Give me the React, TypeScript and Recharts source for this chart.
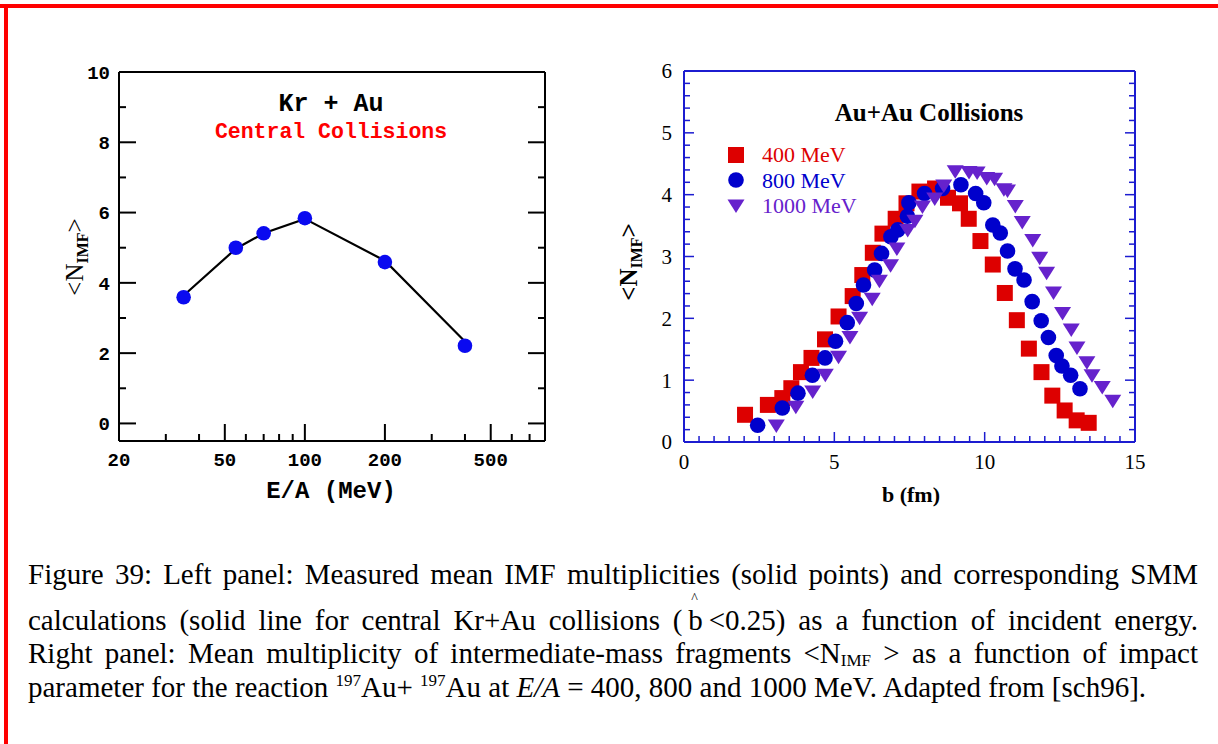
import React from 'react';
import { ComposedChart, ScatterChart, Scatter, Line, XAxis, YAxis, Legend } from 'recharts';

// left panel: Kr + Au central collisions
const energy = [35, 55, 70, 100, 200, 400];
const nImfMeasured = [3.59, 5.0, 5.41, 5.84, 4.59, 2.21];
const nImfSmm = [3.64, 4.97, 5.41, 5.82, 4.63, 2.33];

const eTicks = [20, 30, 40, 50, 60, 70, 80, 90, 100, 200, 300, 400, 500, 600, 700, 800];
const eTickLabels = [20, 50, 100, 200, 500];
const nTicksLeft = [0, 1, 2, 3, 4, 5, 6, 7, 8, 9, 10];
const nLabelsLeft = [0, 2, 4, 6, 8, 10];

// right panel: Au + Au vs impact parameter
const b400 = [2.03, 2.79, 3.27, 3.57, 3.89, 4.24, 4.69, 5.14, 5.61, 5.93, 6.28, 6.6, 7.04, 7.4, 7.83, 8.35, 8.78, 9.18, 9.47, 9.86, 10.27, 10.67, 11.07, 11.47, 11.89, 12.25, 12.66, 13.06, 13.46];
const n400 = [0.44, 0.6, 0.71, 0.87, 1.13, 1.36, 1.66, 2.03, 2.36, 2.7, 3.06, 3.37, 3.61, 3.86, 4.05, 4.1, 3.95, 3.86, 3.61, 3.25, 2.87, 2.41, 1.97, 1.51, 1.13, 0.75, 0.51, 0.35, 0.31];

const b800 = [2.45, 3.27, 3.79, 4.27, 4.69, 5.04, 5.43, 5.73, 5.97, 6.34, 6.57, 6.88, 7.11, 7.43, 7.48, 8.0, 8.6, 9.21, 9.7, 9.97, 10.27, 10.52, 10.76, 11.01, 11.31, 11.58, 11.88, 12.12, 12.38, 12.57, 12.86, 13.17];
const n800 = [0.27, 0.55, 0.79, 1.08, 1.36, 1.63, 1.93, 2.24, 2.54, 2.78, 3.05, 3.32, 3.43, 3.65, 3.87, 4.02, 4.1, 4.16, 4.02, 3.87, 3.51, 3.38, 3.09, 2.8, 2.62, 2.27, 1.96, 1.69, 1.4, 1.23, 1.08, 0.86];

const b1000 = [3.07, 3.72, 4.28, 4.7, 5.14, 5.52, 5.84, 6.26, 6.5, 6.87, 7.08, 7.44, 7.68, 7.93, 8.34, 8.64, 9.02, 9.48, 9.75, 10.07, 10.33, 10.64, 10.76, 11.02, 11.25, 11.6, 11.83, 12.06, 12.29, 12.59, 12.88, 13.07, 13.4, 13.57, 13.91, 14.26];
const n1000 = [0.26, 0.56, 0.81, 1.08, 1.37, 1.69, 2.0, 2.31, 2.6, 2.85, 3.12, 3.42, 3.57, 3.8, 3.93, 4.14, 4.37, 4.36, 4.35, 4.26, 4.25, 4.08, 4.06, 3.81, 3.55, 3.26, 2.97, 2.73, 2.41, 2.08, 1.81, 1.52, 1.28, 1.07, 0.88, 0.66];

const seriesNames = ['400 MeV', '800 MeV', '1000 MeV'];

const bLabels = [0, 5, 10, 15];
const nLabelsRight = [0, 1, 2, 3, 4, 5, 6];
const steps = (from: number, to: number, step: number) => {
  const out: number[] = [];
  for (let i = 0; from + i * step <= to + 1e-9; i++) out.push(+(from + i * step).toFixed(3));
  return out;
};
const bTicks = steps(0, 15, 0.5);
const nTicksRight = steps(0, 6, 0.2);

const leftData = energy.map((e, i) => ({ e, nimf: nImfMeasured[i], smm: nImfSmm[i] }));
const pts = (b: number[], n: number[]) => b.map((v, i) => ({ b: v, n: n[i] }));

const RED = '#dd0000';
const BLUE = '#0000cc';
const PURPLE = '#6622cc';
const FRAME_BLUE = '#1c1cd0';
const MONO = '"Liberation Mono", "DejaVu Sans Mono", monospace';
const SERIF = '"Liberation Serif", "Times New Roman", serif';

type Side = 'bottom' | 'top' | 'left' | 'right';
type TickCfg = {
  side: Side;
  gap: number;
  labels: number[];
  major: number;
  minor: number;
  color: string;
  width: number;
  text?: { font: string; size: number; weight?: string };
};

// ticks point into the plot, long ones where a label sits
const makeTick = (c: TickCfg) => (props: any) => {
  const { x, y, payload } = props;
  const v = Number(payload.value);
  const big = c.labels.some((l) => Math.abs(l - v) < 1e-6);
  const len = big ? c.major : c.minor;
  let l = { x1: x, y1: y, x2: x, y2: y };
  let anchor = 'middle';
  let dy = '0.71em';
  if (c.side === 'bottom') {
    const a = y - c.gap;
    l = { x1: x, y1: a, x2: x, y2: a - len };
  } else if (c.side === 'top') {
    const a = y + c.gap;
    l = { x1: x, y1: a, x2: x, y2: a + len };
  } else if (c.side === 'left') {
    const a = x + c.gap;
    l = { x1: a, y1: y, x2: a + len, y2: y };
    anchor = 'end';
    dy = '0.35em';
  } else {
    const a = x - c.gap;
    l = { x1: a, y1: y, x2: a - len, y2: y };
  }
  return (
    <g>
      <line {...l} stroke={c.color} strokeWidth={c.width} />
      {c.text && big && (
        <text x={x} y={y} dy={dy} textAnchor={anchor} fill="#000" fontFamily={c.text.font} fontSize={c.text.size} fontWeight={c.text.weight}>
          {v}
        </text>
      )}
    </g>
  );
};

const BlueDot = (p: any) => <circle cx={p.cx} cy={p.cy} r={7.3} fill="#0a0af0" />;
const Square = (p: any) => <rect x={p.cx - 8} y={p.cy - 8} width={16} height={16} fill={p.fill} />;
const Dot = (p: any) => <circle cx={p.cx} cy={p.cy} r={7.8} fill={p.fill} />;
const TriDown = (p: any) => (
  <polygon points={`${p.cx - 8.5},${p.cy - 6.5} ${p.cx + 8.5},${p.cy - 6.5} ${p.cx},${p.cy + 7}`} fill={p.fill} />
);

const legendMarks: Record<string, { color: string; mark: React.ReactNode }> = {
  '400 MeV': { color: RED, mark: <rect x={2} y={2} width={16} height={16} fill={RED} /> },
  '800 MeV': { color: BLUE, mark: <circle cx={10} cy={10} r={7.8} fill={BLUE} /> },
  '1000 MeV': { color: PURPLE, mark: <polygon points="1.5,3.5 18.5,3.5 10,17" fill={PURPLE} /> },
};

const leftYLabel = () => (
  <text transform="rotate(-90 83 257)" x={83} y={257} textAnchor="middle" fontFamily={SERIF} fontSize={25} fill="#000">
    &lt;N
    <tspan dy={5} fontSize={16} fontWeight="bold">IMF</tspan>
    <tspan dy={-5}>&gt;</tspan>
  </text>
);

const rightYLabel = () => (
  <text transform="rotate(-90 37 262)" x={37} y={262} textAnchor="middle" fontFamily={SERIF} fontSize={25} fontWeight="bold" fill="#000">
    &lt;N
    <tspan dy={5} fontSize={16}>IMF</tspan>
    <tspan dy={-5}>&gt;</tspan>
  </text>
);

const renderLegend = () => (
  <div style={{ fontFamily: SERIF, fontSize: 22, lineHeight: '25.5px' }}>
    {seriesNames.map((name) => (
      <div key={name} style={{ display: 'flex', alignItems: 'center', color: legendMarks[name].color, height: 25.5 }}>
        <svg width={20} height={20} style={{ marginRight: 16 }}>
          {legendMarks[name].mark}
        </svg>
        <span>{name}</span>
      </div>
    ))}
  </div>
);

const leftTickStyle = { font: MONO, size: 19, weight: 'bold' };
const rightTickStyle = { font: SERIF, size: 21 };

function LeftPanel() {
  return (
    <div style={{ position: 'absolute', left: 0, top: 0, width: 600, height: 520 }}>
      <ComposedChart width={600} height={520} data={leftData} margin={{ top: 70, right: 53, bottom: 49, left: 79 }}>
        <XAxis
          dataKey="e"
          type="number"
          scale="log"
          domain={[20, 800]}
          allowDataOverflow
          ticks={eTicks}
          interval={0}
          height={30}
          tickSize={0}
          tickMargin={12}
          axisLine={{ stroke: '#000', strokeWidth: 2 }}
          tick={makeTick({ side: 'bottom', gap: 12, labels: eTickLabels, major: 17, minor: 7, color: '#000', width: 2, text: leftTickStyle })}
        />
        <XAxis
          xAxisId="top"
          orientation="top"
          type="number"
          scale="log"
          domain={[20, 800]}
          allowDataOverflow
          ticks={eTicks}
          interval={0}
          height={2}
          tickSize={0}
          tickMargin={0}
          axisLine={{ stroke: '#000', strokeWidth: 2 }}
          tick={makeTick({ side: 'top', gap: 0, labels: eTickLabels, major: 17, minor: 6, color: '#000', width: 2 })}
        />
        <YAxis
          type="number"
          domain={[-0.5, 10]}
          allowDataOverflow
          ticks={nTicksLeft}
          interval={0}
          width={40}
          tickSize={0}
          tickMargin={9}
          axisLine={{ stroke: '#000', strokeWidth: 2 }}
          tick={makeTick({ side: 'left', gap: 9, labels: nLabelsLeft, major: 17, minor: 7, color: '#000', width: 2, text: leftTickStyle })}
          label={leftYLabel}
        />
        <YAxis
          yAxisId="right"
          orientation="right"
          type="number"
          domain={[-0.5, 10]}
          allowDataOverflow
          ticks={nTicksLeft}
          interval={0}
          width={2}
          tickSize={0}
          tickMargin={0}
          axisLine={{ stroke: '#000', strokeWidth: 2 }}
          tick={makeTick({ side: 'right', gap: 0, labels: nLabelsLeft, major: 17, minor: 7, color: '#000', width: 2 })}
        />
        <Scatter dataKey="nimf" shape={BlueDot} isAnimationActive={false} />
        <Line dataKey="smm" stroke="#000" strokeWidth={2.2} dot={false} type="linear" isAnimationActive={false} />
      </ComposedChart>
      <div style={{ position: 'absolute', left: 181, width: 300, top: 92, textAlign: 'center', fontFamily: MONO, fontSize: 25, fontWeight: 'bold', lineHeight: '26px', color: '#000' }}>
        Kr + Au
      </div>
      <div style={{ position: 'absolute', left: 181, width: 300, top: 120, textAlign: 'center', fontFamily: MONO, fontSize: 21.5, fontWeight: 'bold', lineHeight: '24px', color: '#ff0000' }}>
        Central Collisions
      </div>
      <div style={{ position: 'absolute', left: 181, width: 300, top: 479, textAlign: 'center', fontFamily: MONO, fontSize: 24, fontWeight: 'bold', lineHeight: '26px', color: '#000' }}>
        E/A (MeV)
      </div>
    </div>
  );
}

function RightPanel() {
  return (
    <div style={{ position: 'absolute', left: 600, top: 0, width: 600, height: 520 }}>
      <ScatterChart width={600} height={520} margin={{ top: 69, right: 63, bottom: 48, left: 44 }}>
        <XAxis
          dataKey="b"
          type="number"
          domain={[0, 15]}
          allowDataOverflow
          ticks={bTicks}
          interval={0}
          height={30}
          tickSize={0}
          tickMargin={12}
          axisLine={{ stroke: FRAME_BLUE, strokeWidth: 2 }}
          tick={makeTick({ side: 'bottom', gap: 12, labels: bLabels, major: 10, minor: 6, color: FRAME_BLUE, width: 1.5, text: rightTickStyle })}
        />
        <XAxis
          xAxisId="top"
          orientation="top"
          type="number"
          domain={[0, 15]}
          allowDataOverflow
          ticks={bTicks}
          interval={0}
          height={2}
          tickSize={0}
          tickMargin={0}
          axisLine={{ stroke: FRAME_BLUE, strokeWidth: 2 }}
          tick={makeTick({ side: 'top', gap: 0, labels: bLabels, major: 10, minor: 6, color: FRAME_BLUE, width: 1.5 })}
        />
        <YAxis
          dataKey="n"
          type="number"
          domain={[0, 6]}
          allowDataOverflow
          ticks={nTicksRight}
          interval={0}
          width={40}
          tickSize={0}
          tickMargin={12}
          axisLine={{ stroke: FRAME_BLUE, strokeWidth: 2 }}
          tick={makeTick({ side: 'left', gap: 12, labels: nLabelsRight, major: 10, minor: 6, color: FRAME_BLUE, width: 1.5, text: rightTickStyle })}
          label={rightYLabel}
        />
        <YAxis
          yAxisId="right"
          orientation="right"
          type="number"
          domain={[0, 6]}
          allowDataOverflow
          ticks={nTicksRight}
          interval={0}
          width={2}
          tickSize={0}
          tickMargin={0}
          axisLine={{ stroke: FRAME_BLUE, strokeWidth: 2 }}
          tick={makeTick({ side: 'right', gap: 0, labels: nLabelsRight, major: 10, minor: 6, color: FRAME_BLUE, width: 1.5 })}
        />
        <Legend
          layout="vertical"
          align="center"
          verticalAlign="middle"
          wrapperStyle={{ left: 126, top: 142, width: 180 }}
          content={renderLegend}
        />
        <Scatter name={seriesNames[0]} data={pts(b400, n400)} fill={RED} shape={Square} isAnimationActive={false} />
        <Scatter name={seriesNames[1]} data={pts(b800, n800)} fill={BLUE} shape={Dot} isAnimationActive={false} />
        <Scatter name={seriesNames[2]} data={pts(b1000, n1000)} fill={PURPLE} shape={TriDown} isAnimationActive={false} />
      </ScatterChart>
      <div style={{ position: 'absolute', left: 179, width: 300, top: 98, textAlign: 'center', fontFamily: SERIF, fontSize: 25, fontWeight: 'bold', lineHeight: '30px' }}>
        Au+Au Collisions
      </div>
      <div style={{ position: 'absolute', left: 161, width: 300, top: 482, textAlign: 'center', fontFamily: SERIF, fontSize: 22, fontWeight: 'bold', lineHeight: '26px' }}>
        b (fm)
      </div>
    </div>
  );
}

const captionLine: React.CSSProperties = {
  position: 'absolute',
  left: 28,
  width: 1170,
  fontFamily: SERIF,
  fontSize: 29,
  lineHeight: '33px',
  color: '#000',
  textAlign: 'justify',
  textAlignLast: 'justify',
  whiteSpace: 'normal',
};
const sub: React.CSSProperties = { fontSize: 17, position: 'relative', top: 3 };
const sup: React.CSSProperties = { fontSize: 17, position: 'relative', top: -11 };

export default function App() {
  return (
    <div style={{ position: 'absolute', left: 0, top: 0, width: 1218, height: 744, background: '#fff', overflow: 'hidden' }}>
      <div style={{ position: 'absolute', left: 0, top: 4, width: 1218, height: 4, background: '#ff0000' }} />
      <div style={{ position: 'absolute', left: 4, top: 4, width: 4, height: 740, background: '#ff0000' }} />
      <LeftPanel />
      <RightPanel />
      <div style={{ ...captionLine, top: 558 }}>
        Figure 39: Left panel: Measured mean IMF multiplicities (solid points) and corresponding SMM
      </div>
      <div style={{ ...captionLine, top: 604 }}>
        calculations (solid line for central Kr+Au collisions (&#8201;
        <span style={{ position: 'relative', display: 'inline-block' }}>
          b<span style={{ position: 'absolute', left: 3, top: -12, fontSize: 14, lineHeight: '14px' }}>^</span>
        </span>
        {'\u2009<0.25) as a function of incident energy.'}
      </div>
      <div style={{ ...captionLine, top: 637 }}>
        Right panel: Mean multiplicity of intermediate-mass fragments &lt;N<span style={sub}>IMF</span> &gt; as a function of impact
      </div>
      <div style={{ ...captionLine, top: 671, textAlign: 'left', textAlignLast: 'left' }}>
        parameter for the reaction <span style={sup}>197</span>Au+ <span style={sup}>197</span>Au at <i>E/A</i> = 400, 800 and 1000 MeV. Adapted from [sch96].
      </div>
    </div>
  );
}
